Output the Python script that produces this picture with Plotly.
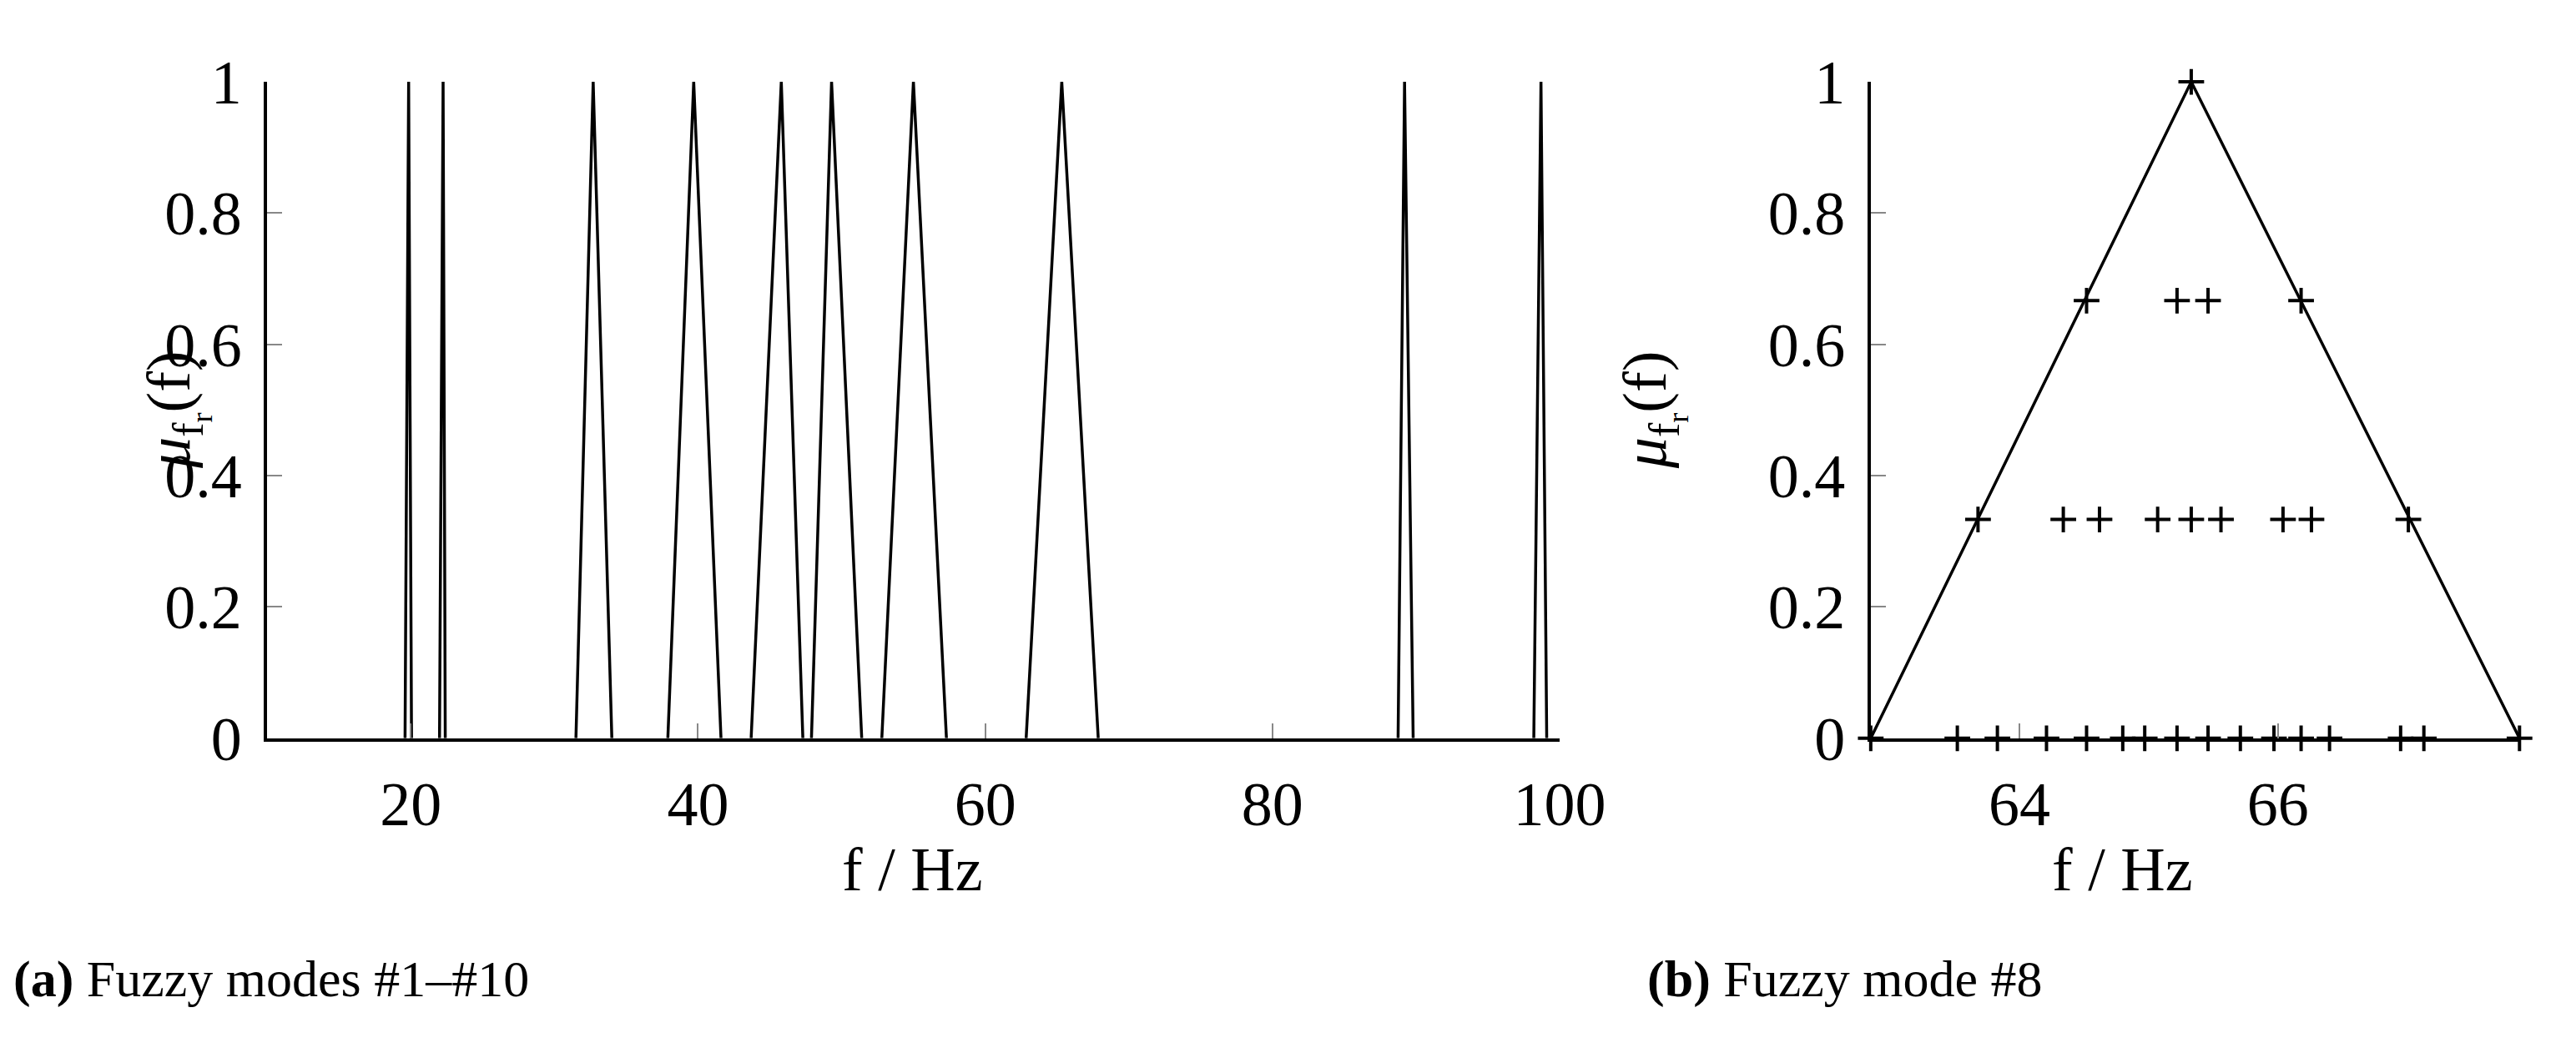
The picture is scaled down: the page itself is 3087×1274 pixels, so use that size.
import plotly.graph_objects as go

# fuzzy modes #1-#10: left base, peak, right base (Hz)
mode_left = [19.6, 22.0, 31.5, 37.9, 43.7, 47.9, 52.8, 62.85, 88.75, 98.2]
mode_peak = [19.85, 22.25, 32.7, 39.7, 45.8, 49.3, 55.0, 65.33, 89.2, 98.7]
mode_right = [20.05, 22.4, 34.0, 41.6, 47.3, 51.4, 57.3, 67.87, 89.8, 99.1]

# fuzzy mode #8 sample points
m8_x = [62.85, 63.52, 63.83, 64.21, 64.52, 64.80, 64.97, 65.22, 65.46, 65.71,
        65.97, 66.18, 66.40, 66.95, 67.13, 67.87,
        63.68, 64.34, 64.62, 65.07, 65.33, 65.56, 66.04, 66.26, 67.01,
        64.52, 65.22, 65.46, 66.18,
        65.33]
m8_y = [0] * 16 + [1 / 3] * 9 + [2 / 3] * 4 + [1]

FONT = "Liberation Serif"

tri_x, tri_y = [], []
for a, p, b in zip(mode_left, mode_peak, mode_right):
    tri_x += [a, p, b, None]
    tri_y += [0, 1, 0, None]

fig = go.Figure()
fig.add_trace(go.Scatter(x=tri_x, y=tri_y, mode="lines",
                         line=dict(color="black", width=3.5), xaxis="x", yaxis="y"))
fig.add_trace(go.Scatter(x=[mode_left[7], mode_peak[7], mode_right[7]], y=[0, 1, 0],
                         mode="lines", line=dict(color="black", width=3.5),
                         xaxis="x2", yaxis="y2"))
fig.add_trace(go.Scatter(x=m8_x, y=m8_y, mode="markers", cliponaxis=False,
                         marker=dict(symbol="cross-thin", size=22,
                                     line=dict(color="black", width=4)),
                         xaxis="x2", yaxis="y2"))

ax = dict(showgrid=False, zeroline=False, showline=True, linecolor="black", linewidth=3.5,
          ticks="inside", tickcolor="#888", ticklen=18, tickwidth=2, ticklabelstandoff=12,
          tickfont=dict(family=FONT, size=74, color="black"))
fig.update_layout(
    width=3087, height=1274, plot_bgcolor="white", paper_bgcolor="white",
    margin=dict(l=0, r=0, t=0, b=0), showlegend=False,
    xaxis=dict(ax, domain=[0.103, 0.614], range=[10, 100], tickvals=[20, 40, 60, 80, 100]),
    yaxis=dict(ax, domain=[0.298, 0.958], range=[0, 1], dtick=0.2, anchor="x"),
    xaxis2=dict(ax, domain=[0.737, 0.9935], range=[62.85, 67.87], tickvals=[64, 66], anchor="y2"),
    yaxis2=dict(ax, domain=[0.298, 0.958], range=[0, 1], dtick=0.2, anchor="x2"),
)

ytitle = "<i>μ</i><sub>f<sub>r</sub></sub>(f)"
notes = [
    (0.358, 0.13, "f / Hz", 0),
    (0.865, 0.13, "f / Hz", 0),
    (0.05, 0.628, ytitle, -90),
    (0.668, 0.628, ytitle, -90),
]
for x, y, t, ang in notes:
    fig.add_annotation(x=x, y=y, xref="paper", yref="paper", text=t, showarrow=False,
                       textangle=ang, font=dict(family=FONT, size=74, color="black"))
fig.add_annotation(x=0.002, y=0.025, xref="paper", yref="paper", xanchor="left",
                   text="<b>(a)</b> Fuzzy modes #1–#10", showarrow=False,
                   font=dict(family=FONT, size=62, color="black"))
fig.add_annotation(x=0.648, y=0.025, xref="paper", yref="paper", xanchor="left",
                   text="<b>(b)</b> Fuzzy mode #8", showarrow=False,
                   font=dict(family=FONT, size=62, color="black"))

fig.write_html("out.html")
